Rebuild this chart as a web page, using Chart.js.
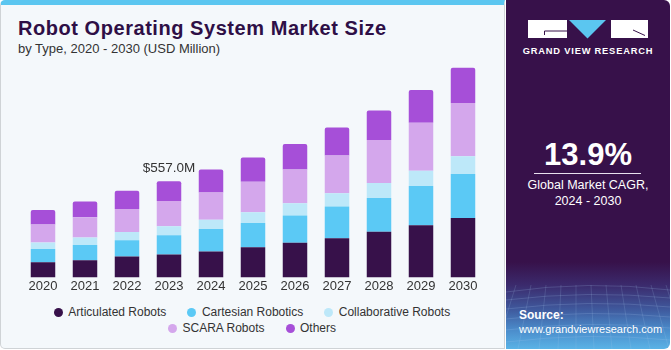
<!DOCTYPE html>
<html>
<head>
<meta charset="utf-8">
<script src="https://cdn.jsdelivr.net/npm/chart.js@4/dist/chart.umd.min.js"></script>
<style>
  html, body { margin:0; padding:0; width:671px; height:350px; overflow:hidden; background:#ffffff; font-family:"Liberation Sans", Arial, sans-serif; }
  #card { position:absolute; left:0; top:0; width:505px; height:349px; box-sizing:border-box; background:#f4f8fb; border:1px solid #cfd3d6; border-top:5px solid #5bc6f0; border-radius:5px 0 0 5px; }
  #title { position:absolute; left:18px; top:17px; font-size:20px; font-weight:bold; color:#2e0f46; white-space:nowrap; letter-spacing:0.55px; }
  #subtitle { position:absolute; left:18px; top:41px; font-size:13px; color:#333333; white-space:nowrap; }
  #chartWrap { position:absolute; left:0; top:0; width:504px; height:300px; }
  #legend { position:absolute; left:0; top:304px; width:504px; font-size:12px; color:#333333; }
  .lrow { display:flex; justify-content:center; height:16px; line-height:16px; }
  .litem { display:flex; align-items:center; margin:0 10.5px; white-space:nowrap; }
  .ldot { width:9px; height:9px; border-radius:50%; margin-right:5.5px; }
  #panel { position:absolute; left:506px; top:0; width:164px; height:349px; border-radius:0 6px 6px 0; overflow:hidden;
           background:linear-gradient(to bottom, #37114a 0px, #37114a 262px, #3b2a6c 285px, #3f5a9e 310px, #4b8ccb 330px, #5ab3e6 349px); }
  #brand { position:absolute; left:0; top:46px; width:164px; text-align:center; font-size:9.3px; font-weight:bold; color:#ffffff; letter-spacing:0.8px; }
  #cagr { position:absolute; left:0; top:137px; width:164px; text-align:center; font-size:31px; font-weight:bold; color:#ffffff; }
  #rule { position:absolute; left:28px; top:173px; width:107px; height:1px; background:#e8e0ef; }
  #cagrText { position:absolute; left:0; top:178px; width:164px; text-align:center; font-size:12.5px; line-height:15.5px; color:#ffffff; }
  #source { position:absolute; left:13px; top:309px; font-size:11px; line-height:13.5px; color:#ffffff; white-space:nowrap; }
  #source b { font-size:12px; }
</style>
</head>
<body>
<div id="card"></div>
<div id="title">Robot Operating System Market Size</div>
<div id="subtitle">by Type, 2020 - 2030 (USD Million)</div>
<div id="chartWrap"><canvas id="c" width="504" height="300"></canvas></div>
<div id="legend"></div>
<div id="panel">
  <svg width="164" height="349" style="position:absolute;left:0;top:0">
    <rect x="22" y="20" width="39" height="18" fill="#ffffff"/>
    <polyline points="61,31 38.5,31 38.5,35" fill="none" stroke="#37114a" stroke-width="1"/>
    <polygon points="63,20 100,20 81.5,38.5" fill="#5bc6f0"/>
    <rect x="105" y="20" width="37" height="18" fill="#ffffff"/>
    <line x1="127" y1="30" x2="139" y2="35.5" stroke="#37114a" stroke-width="1"/>
    <g stroke="rgba(170,200,240,0.25)" stroke-width="0.8" fill="none">
      <path d="M0,292 Q82,280 164,290"/><path d="M0,300 Q82,290 164,298"/><path d="M0,309 Q82,299 164,307"/>
      <path d="M0,319 Q82,309 164,317"/><path d="M0,330 Q82,320 164,328"/><path d="M0,342 Q82,332 164,340"/>
    </g>
    <g stroke="rgba(170,200,240,0.22)" stroke-width="0.8" fill="none">
      <line x1="10" y1="285" x2="-10" y2="349"/><line x1="25" y1="285" x2="12" y2="349"/><line x1="40" y1="285" x2="33" y2="349"/>
      <line x1="55" y1="285" x2="52" y2="349"/><line x1="70" y1="285" x2="70" y2="349"/><line x1="85" y1="285" x2="88" y2="349"/>
      <line x1="100" y1="285" x2="106" y2="349"/><line x1="115" y1="285" x2="125" y2="349"/><line x1="130" y1="285" x2="144" y2="349"/>
      <line x1="145" y1="285" x2="163" y2="349"/><line x1="160" y1="285" x2="180" y2="349"/>
    </g>
  </svg>
  <div id="brand">GRAND VIEW RESEARCH</div>
  <div id="cagr">13.9%</div>
  <div id="rule"></div>
  <div id="cagrText">Global Market CAGR,<br>2024 - 2030</div>
  <div id="source"><b>Source:</b><br>www.grandviewresearch.com</div>
</div>
<script>
const years = ["2020","2021","2022","2023","2024","2025","2026","2027","2028","2029","2030"];
const seriesNames = ["Articulated Robots","Cartesian Robotics","Collaborative Robots","SCARA Robots","Others"];
const seriesColors = ["#37114a","#5bc9f5","#bde8f9","#d4a7ec","#a64fd8"];
const articulated   = [87, 100, 121, 133, 150, 175, 200, 227, 265, 302, 344];
const cartesian     = [78,  88,  94, 111, 130, 140, 158, 183, 194, 227, 254];
const collaborative = [37,  43,  48,  52,  54,  62,  71,  77,  87,  89, 104];
const scara         = [104,117, 133, 146, 157, 177, 196, 219, 250, 277, 308];
const others        = [84,  92, 106, 115, 133, 140, 148, 162, 171, 190, 204];
const highlightIndex = 3;
const allSeries = [articulated, cartesian, collaborative, scara, others];

const datasets = allSeries.map((d, i) => ({
  label: seriesNames[i],
  data: d,
  backgroundColor: seriesColors[i],
  borderWidth: 0,
  borderRadius: i === allSeries.length - 1 ? {topLeft:2, topRight:2, bottomLeft:0, bottomRight:0} : 0,
  borderSkipped: false,
  barPercentage: 0.583,
  categoryPercentage: 1.0
}));

const totalLabel = {
  id: 'totalLabel',
  afterDatasetsDraw(chart) {
    const ctx = chart.ctx;
    const total = allSeries.reduce((s, arr) => s + arr[highlightIndex], 0);
    const x = chart.scales.x.getPixelForValue(highlightIndex);
    const y = chart.scales.y.getPixelForValue(total);
    ctx.save();
    ctx.font = '13.5px "Liberation Sans", Arial, sans-serif';
    ctx.fillStyle = '#333333';
    ctx.textAlign = 'center';
    ctx.textBaseline = 'alphabetic';
    ctx.fillText('$' + total.toFixed(1) + 'M', x, y - 9);
    ctx.restore();
  }
};

new Chart(document.getElementById('c'), {
  type: 'bar',
  data: { labels: years, datasets },
  options: {
    responsive: false,
    animation: false,
    layout: { padding: { left: 22, right: 20, top: 61.5, bottom: 5 } },
    plugins: { legend: { display: false }, tooltip: { enabled: false } },
    scales: {
      x: { stacked: true, grid: { display: false, drawTicks: false }, border: { display: false },
           ticks: { padding: 1, color: '#333333', font: { family: '"Liberation Sans", Arial, sans-serif', size: 13 } } },
      y: { stacked: true, display: false, min: 0, max: 1250 }
    }
  },
  plugins: [totalLabel]
});

const legend = document.getElementById('legend');
[[0,1,2],[3,4]].forEach(row => {
  const r = document.createElement('div');
  r.className = 'lrow';
  row.forEach(i => {
    const it = document.createElement('div');
    it.className = 'litem';
    const dot = document.createElement('span');
    dot.className = 'ldot';
    dot.style.background = seriesColors[i];
    const t = document.createElement('span');
    t.textContent = seriesNames[i];
    it.appendChild(dot); it.appendChild(t);
    r.appendChild(it);
  });
  legend.appendChild(r);
});
</script>
</body>
</html>
